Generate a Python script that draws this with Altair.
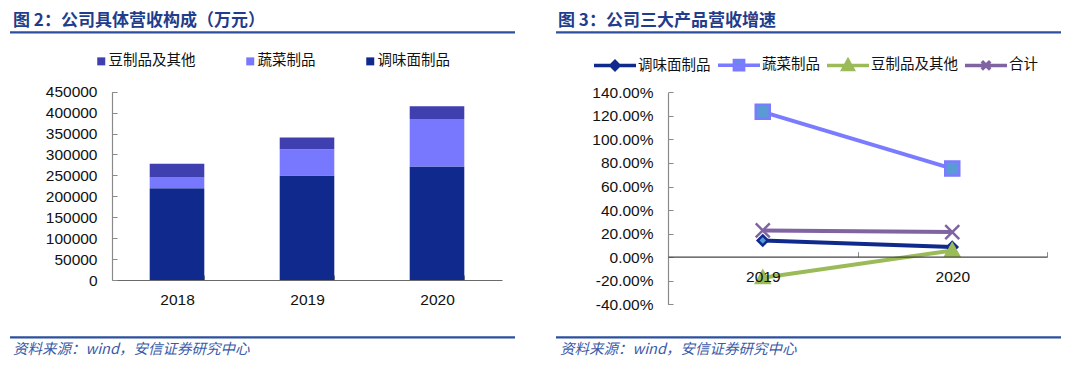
import altair as alt
import pandas as pd

CJK = "Noto Sans CJK SC"
LAT = "Liberation Sans"

# ---------------- left panel data (万元) ----------------
bar_years = ['2018', '2019', '2020']
bar_products = ['调味面制品', '蔬菜制品', '豆制品及其他']
seasoning_rev = [219000, 249500, 271000]
vegetable_rev = [26000, 63000, 113500]
bean_rev = [33000, 28000, 30500]
bar_legend_order = ['豆制品及其他', '蔬菜制品', '调味面制品']
bar_legend_colors = ['#3f3fb0', '#7878ff', '#0f2a8c']
bar_y_ticks = [0, 50000, 100000, 150000, 200000, 250000, 300000, 350000, 400000, 450000]

# ---------------- right panel data (growth) ----------------
line_years = ['2019', '2020']
line_series = ['调味面制品', '蔬菜制品', '豆制品及其他', '合计']
g_seasoning = [0.142, 0.086]
g_vegetable = [1.234, 0.752]
g_bean = [-0.175, 0.057]
g_total = [0.227, 0.213]
line_colors = ['#0f2a8c', '#7b7bff', '#9bbb59', '#8064a2']
marker_fills = ['#5b9bd5', '#5b9bd5', '#9bbb59', 'transparent']
line_y_ticks = [-0.4, -0.2, 0.0, 0.2, 0.4, 0.6, 0.8, 1.0, 1.2, 1.4]

marker_paths = [
    'M0,-0.72L0.72,0L0,0.72L-0.72,0Z',
    'M-1,-1H1V1H-1Z',
    'M0,-0.95L0.95,0.75H-0.95Z',
    'M-1,-1L1,1M-1,1L1,-1',
]
legend_paths = [
    'M-1,0H1M0,-0.19L0.19,0L0,0.19L-0.19,0Z',
    'M-1,0H1M-0.22,-0.22H0.22V0.22H-0.22Z',
    'M-1,0H1M0,-0.24L0.24,0.2H-0.24Z',
    'M-1,0H1M-0.2,-0.2L0.2,0.2M-0.2,0.2L0.2,-0.2',
]

# ---------------- tables ----------------
rows = []
for i, yr in enumerate(bar_years):
    for rank, (p, vals) in enumerate(zip(bar_products, [seasoning_rev, vegetable_rev, bean_rev])):
        rows.append({'year': yr, 'product': p, 'value': vals[i], 'rank': rank})
df_bar = pd.DataFrame(rows)

rows = []
for s, vals in zip(line_series, [g_seasoning, g_vegetable, g_bean, g_total]):
    for i, yr in enumerate(line_years):
        rows.append({'year': yr, 'series': s, 'g': vals[i]})
df_line = pd.DataFrame(rows)

# ---------------- left panel ----------------
x_bar = alt.X('year:N', sort=bar_years,
              scale=alt.Scale(type='band', domain=bar_years, range=[104, 494],
                              paddingInner=0.58, paddingOuter=0.29),
              axis=alt.Axis(orient='top', offset=-272, title=None, labelAngle=0,
                            tickBand='extent', tickSize=5, tickColor='#8a8a8a',
                            domainColor='#6a6a6a', domainWidth=1.2,
                            labelPadding=-24, labelBaseline='middle',
                            labelFont=LAT, labelFontSize=15.5, labelColor='#111111',
                            labelOverlap=False, grid=False))
y_bar = alt.Y('value:Q', stack='zero',
              scale=alt.Scale(domain=[0, 450000], range=[272, 83.7], nice=False),
              axis=alt.Axis(orient='right', offset=-960, title=None, values=bar_y_ticks,
                            format='d', tickSize=5, tickColor='#8a8a8a',
                            domainColor='#8a8a8a', domainWidth=1.2,
                            labelAlign='right', labelBaseline='middle', labelPadding=-20,
                            labelFont=LAT, labelFontSize=15.5, labelColor='#111111',
                            labelOverlap=False, grid=False))

bars = alt.Chart(df_bar).mark_bar().encode(
    x=x_bar,
    y=y_bar,
    color=alt.Color('product:N',
                    scale=alt.Scale(domain=bar_legend_order, range=bar_legend_colors),
                    legend=alt.Legend(orient='none', legendX=86, legendY=46,
                                      direction='horizontal', title=None,
                                      symbolType='square', symbolSize=64,
                                      symbolStrokeWidth=0, labelOffset=0,
                                      columnPadding=47, padding=0,
                                      labelFont=CJK, labelFontSize=14.5,
                                      labelColor='#111111')),
    order=alt.Order('rank:Q'),
)
left = alt.layer(bars)

# ---------------- right panel ----------------
X_LINE_AXIS = alt.Axis(orient='top', offset=-248.7, title=None, labelAngle=0,
                       tickBand='extent', tickSize=5, tickColor='#8a8a8a',
                       domainColor='#444444', domainWidth=1.2,
                       labelPadding=-25, labelBaseline='middle',
                       labelFont=LAT, labelFontSize=15.5, labelColor='#111111',
                       labelOverlap=False, grid=False, zindex=1)
Y_LINE_AXIS = alt.Axis(orient='right', offset=-404, title=None, values=line_y_ticks,
                       labelExpr="(datum.value < -0.0001 ? '-' : '') + format(abs(datum.value) * 100, '.2f') + '%'",
                       tickSize=5, tickColor='#8a8a8a',
                       domainColor='#8a8a8a', domainWidth=1.2,
                       labelAlign='right', labelBaseline='middle', labelPadding=-20,
                       labelFont=LAT, labelFontSize=15.5, labelColor='#111111',
                       labelOverlap=False, grid=False)


def x_line():
    return alt.X('year:N', sort=line_years,
                 scale=alt.Scale(type='band', domain=line_years, range=[660, 1039],
                                 paddingInner=0, paddingOuter=0), axis=X_LINE_AXIS)


def y_line():
    return alt.Y('g:Q', scale=alt.Scale(domain=[-0.4, 1.4], range=[296.3, 84.3],
                                        nice=False, zero=False), axis=Y_LINE_AXIS)


base = alt.Chart(df_line)
lines = base.mark_line(strokeWidth=4).encode(
    x=x_line(), y=y_line(),
    color=alt.Color('series:N', scale=alt.Scale(domain=line_series, range=line_colors),
                    legend=None),
)
markers = base.mark_point(filled=True, opacity=1, size=196, strokeWidth=2.5).encode(
    x=x_line(), y=y_line(),
    shape=alt.Shape('series:N', scale=alt.Scale(domain=line_series, range=marker_paths),
                    legend=None),
    fill=alt.Fill('series:N', scale=alt.Scale(domain=line_series, range=marker_fills),
                  legend=None),
    stroke=alt.Stroke('series:N', scale=alt.Scale(domain=line_series, range=line_colors),
                      legend=None),
)
leg = alt.Legend(orient='none', legendX=584, legendY=34, direction='horizontal',
                 title=None, symbolSize=1764, symbolStrokeWidth=3.5, symbolOpacity=1,
                 labelOffset=0, columnPadding=0, padding=0,
                 labelFont=CJK, labelFontSize=14.5, labelColor='#111111')
legend_pts = base.mark_point(filled=True, opacity=0, size=1764, strokeWidth=3.5).encode(
    x=x_line(), y=y_line(),
    shape=alt.Shape('series:N', scale=alt.Scale(domain=line_series, range=legend_paths),
                    legend=leg),
    fill=alt.Fill('series:N', scale=alt.Scale(domain=line_series, range=marker_fills),
                  legend=leg),
    stroke=alt.Stroke('series:N', scale=alt.Scale(domain=line_series, range=line_colors),
                      legend=leg),
)
right = alt.layer(lines, markers, legend_pts).resolve_scale(
    color='independent', fill='independent', stroke='independent', shape='independent')

# ---------------- decorations ----------------
def text_mark(txt, x, y, size, color, weight='normal', style='normal'):
    return alt.Chart(pd.DataFrame({'t': [txt]})).mark_text(
        align='left', baseline='middle', font=CJK, fontSize=size, color=color,
        fontWeight=weight, fontStyle=style).encode(
        x=alt.value(x), y=alt.value(y), text='t:N')


def rule_mark(x1, x2, y, color, w):
    return alt.Chart(pd.DataFrame({'a': [0]})).mark_rule(color=color, strokeWidth=w).encode(
        x=alt.value(x1), x2=alt.value(x2), y=alt.value(y))


title_color = '#1f3d8c'
src_color = '#3a5aa8'
decos = [
    text_mark('图 2：公司具体营收构成（万元）', 5, 12.8, 17, title_color, 'bold'),
    text_mark('图 3：公司三大产品营收增速', 550, 12.8, 17, title_color, 'bold'),
    rule_mark(2, 507, 24.3, '#2d4f9e', 2.2),
    rule_mark(548, 1053, 24.3, '#2d4f9e', 2.2),
    rule_mark(2, 507, 329.3, '#2d4f9e', 2.2),
    rule_mark(548, 1053, 329.3, '#2d4f9e', 2.2),
    text_mark('资料来源：wind，安信证券研究中心', 5, 342.3, 14.5, src_color, 'normal', 'italic'),
    text_mark('资料来源：wind，安信证券研究中心', 552, 342.3, 14.5, src_color, 'normal', 'italic'),
]

chart = alt.layer(left, right, *decos).resolve_scale(
    x='independent', y='independent', color='independent',
    fill='independent', stroke='independent', shape='independent'
).properties(
    width=1064, height=350,
    autosize=alt.AutoSizeParams(type='none'), padding=0,
).configure_view(strokeWidth=0)

chart.save('out.html', embed_options={'renderer': 'svg', 'actions': False})
